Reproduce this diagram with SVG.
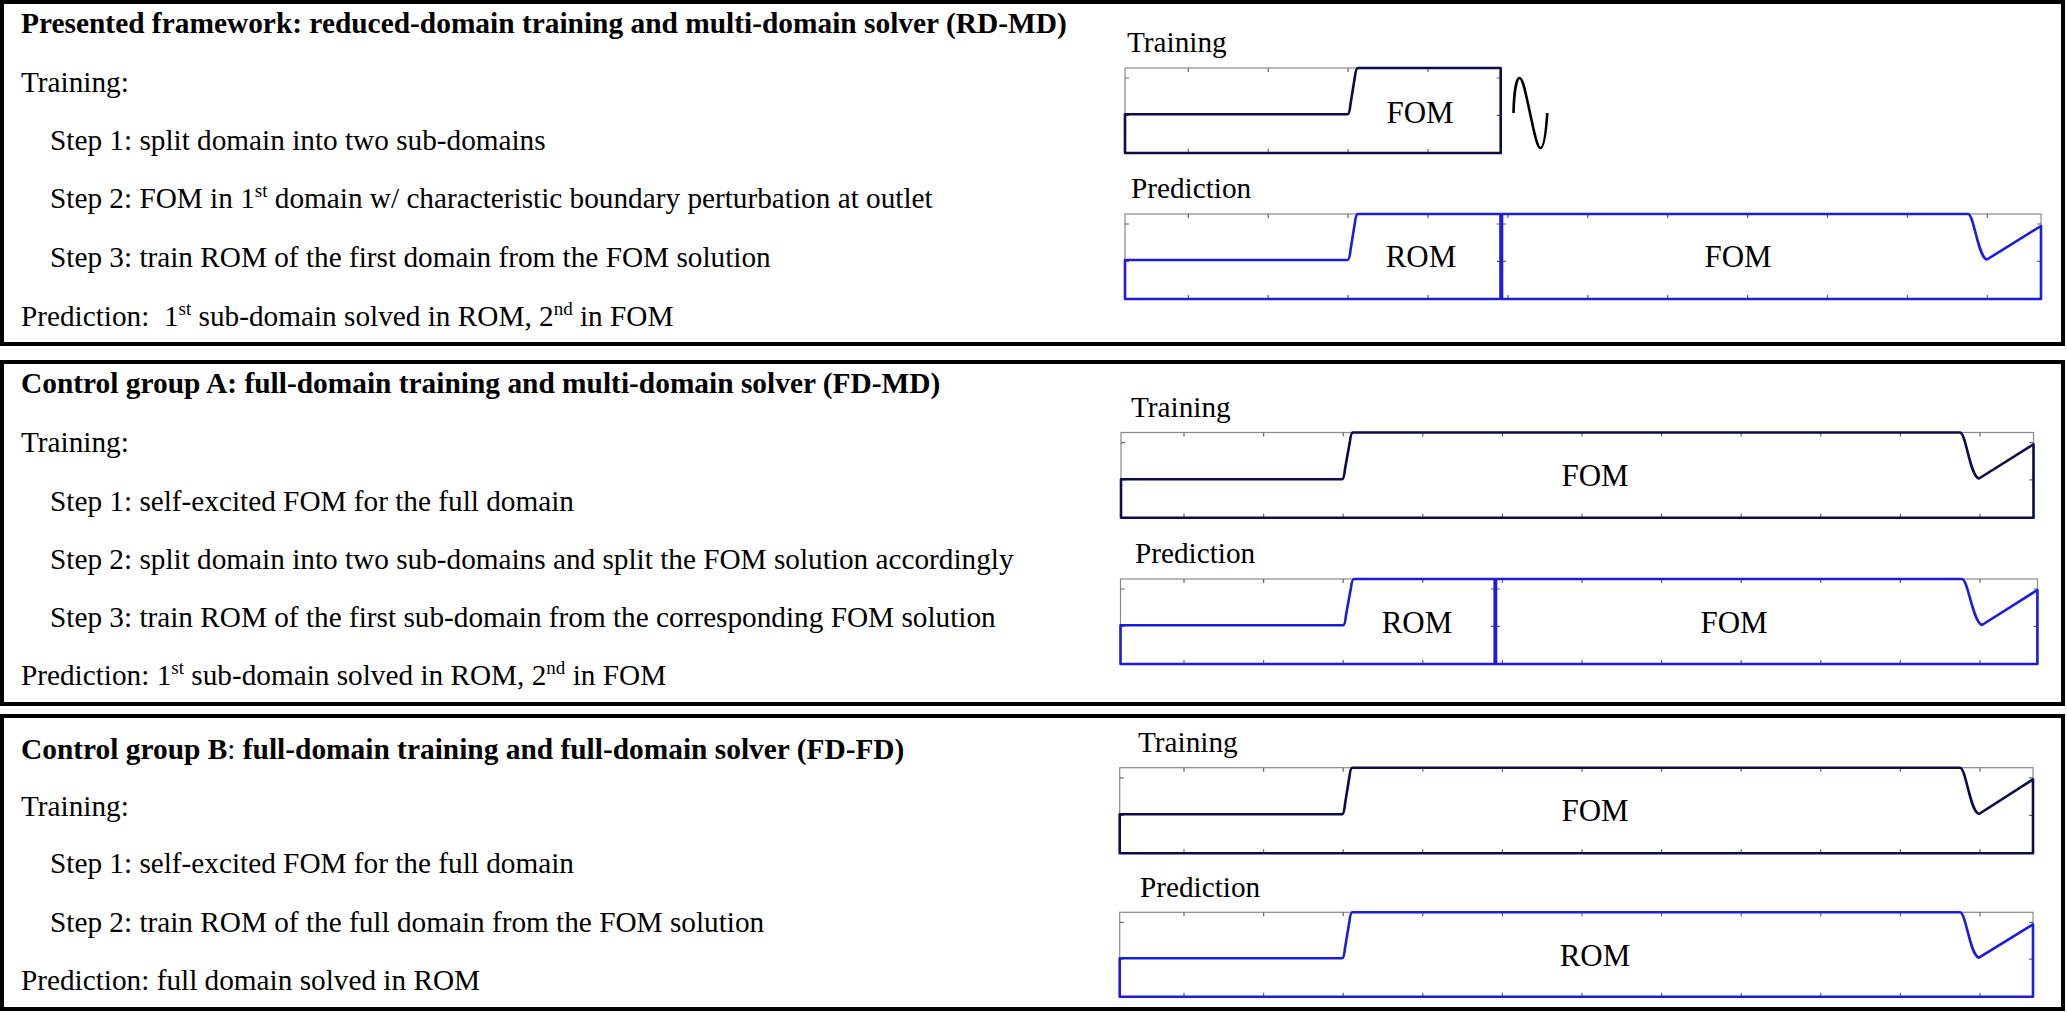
<svg xmlns="http://www.w3.org/2000/svg" width="2067" height="1013" viewBox="0 0 2067 1013">
<style>
.box{fill:none;stroke:#000;stroke-width:4}
.t{font-family:"Liberation Serif","Times New Roman",serif;font-size:29.25px;fill:#000}
.b{font-weight:bold;font-size:29.4px}
.lab{font-family:"Liberation Serif","Times New Roman",serif;font-size:31px;fill:#000;text-anchor:middle}
.frame{fill:none;stroke:#8a8a8a;stroke-width:1.2}
.tick{fill:none;stroke:#666;stroke-width:1.2}
.navy{fill:none;stroke:#0c0c48;stroke-width:2.6;stroke-linejoin:round}
.blue{fill:none;stroke:#1c1ce0;stroke-width:2.6;stroke-linejoin:round}
.sine{fill:none;stroke:#000;stroke-width:2.6}
</style>
<rect width="2067" height="1013" fill="#fff"/>

<g id="panel-rdmd">
  <rect class="box" x="2" y="2" width="2061" height="342"/>
  <text class="t b" x="21" y="33">Presented framework: reduced-domain training and multi-domain solver (RD-MD)</text>
  <text class="t" x="21" y="92">Training:</text>
  <text class="t" x="50" y="150">Step 1: split domain into two sub-domains</text>
  <text class="t" x="50" y="208">Step 2: FOM in 1<tspan font-size="19" dy="-11">st</tspan><tspan dy="11"> domain w/ characteristic boundary perturbation at outlet</tspan></text>
  <text class="t" x="50" y="267">Step 3: train ROM of the first domain from the FOM solution</text>
  <text class="t" x="21" y="326">Prediction:&#160; 1<tspan font-size="19" dy="-11">st</tspan><tspan dy="11"> sub-domain solved in ROM, 2</tspan><tspan font-size="19" dy="-11">nd</tspan><tspan dy="11"> in FOM</tspan></text>

  <g id="rdmd-training">
    <text class="t" x="1127" y="52">Training</text>
    <rect class="frame" x="1125" y="68" width="375.7" height="85"/>
    <path class="tick" d="M1188.3,68v4M1268.2,68v4M1348.1,68v4M1428,68v4M1188.3,153v-4M1268.2,153v-4M1348.1,153v-4M1428,153v-4M1125,78h4M1125,115.3h4M1500.7,78h-4M1500.7,115.3h-4"/>
    <path class="navy" d="M1125,153 L1125,114.3 L1347.5,114.3 Q1349.5,114.3 1350.5,104 L1355,76 Q1356,68 1358,68 L1500.7,68 L1500.7,153 Z"/>
    <text class="lab" x="1420" y="123">FOM</text>
    <path class="sine" d="M1513.5,113 C1514,90 1517,78 1519.5,78 C1523,78 1526,95 1530,113 C1534,131 1537,148 1540.5,148 C1544,148 1546,132 1547.3,113"/>
  </g>

  <g id="rdmd-prediction">
    <text class="t" x="1131" y="198">Prediction</text>
    <rect class="frame" x="1125" y="214" width="916" height="85"/>
    <path class="tick" d="M1188.3,214v4M1268.2,214v4M1348.1,214v4M1428,214v4M1507.9,214v4M1587.8,214v4M1667.7,214v4M1747.6,214v4M1827.5,214v4M1907.4,214v4M1987.3,214v4M1188.3,299v-4M1268.2,299v-4M1348.1,299v-4M1428,299v-4M1507.9,299v-4M1587.8,299v-4M1667.7,299v-4M1747.6,299v-4M1827.5,299v-4M1907.4,299v-4M1987.3,299v-4M1125,224h4M1125,261.3h4M1500.7,224h-4M1500.7,261.3h-4M1502,224h4M1502,261.3h4M2041,224h-4M2041,261.3h-4"/>
    <path class="blue" d="M1125,299 L1125,260 L1347.5,260 Q1349.5,260 1350.5,250 L1355,222 Q1356,214 1358,214 L1500.5,214 L1500.5,299 Z"/>
    <path class="blue" d="M1502,299 L1502,214 L1968,214 C1974,214 1978,258 1987,259.5 L2041,226 L2041,299 Z"/>
    <text class="lab" x="1421" y="267">ROM</text>
    <text class="lab" x="1738" y="267">FOM</text>
  </g>
</g>

<g id="panel-fdmd">
  <rect class="box" x="2" y="362" width="2061" height="342"/>
  <text class="t b" x="21" y="393">Control group A: full-domain training and multi-domain solver (FD-MD)</text>
  <text class="t" x="21" y="452">Training:</text>
  <text class="t" x="50" y="511">Step 1: self-excited FOM for the full domain</text>
  <text class="t" x="50" y="569">Step 2: split domain into two sub-domains and split the FOM solution accordingly</text>
  <text class="t" x="50" y="627">Step 3: train ROM of the first sub-domain from the corresponding FOM solution</text>
  <text class="t" x="21" y="685">Prediction: 1<tspan font-size="19" dy="-11">st</tspan><tspan dy="11"> sub-domain solved in ROM, 2</tspan><tspan font-size="19" dy="-11">nd</tspan><tspan dy="11"> in FOM</tspan></text>

  <g id="fdmd-training">
    <text class="t" x="1131" y="417">Training</text>
    <rect class="frame" x="1121" y="432.5" width="912.5" height="85.2"/>
    <path class="tick" d="M1184,432.5v4M1263.6,432.5v4M1343.2,432.5v4M1422.8,432.5v4M1502.4,432.5v4M1582,432.5v4M1661.6,432.5v4M1741.2,432.5v4M1820.8,432.5v4M1900.4,432.5v4M1980,432.5v4M1184,517.7v-4M1263.6,517.7v-4M1343.2,517.7v-4M1422.8,517.7v-4M1502.4,517.7v-4M1582,517.7v-4M1661.6,517.7v-4M1741.2,517.7v-4M1820.8,517.7v-4M1900.4,517.7v-4M1980,517.7v-4M1121,442.6h4M1121,479.9h4M2033.5,442.6h-4M2033.5,479.9h-4"/>
    <path class="navy" d="M1121,517.7 L1121,479.3 L1342,479.3 Q1344,479.3 1345,469 L1350,441 Q1351,432.5 1353,432.5 L1960,432.5 C1966,432.5 1970,477 1979,478.5 L2033.5,444.3 L2033.5,517.7 Z"/>
    <text class="lab" x="1595" y="486">FOM</text>
  </g>

  <g id="fdmd-prediction">
    <text class="t" x="1135" y="563">Prediction</text>
    <rect class="frame" x="1120.5" y="579" width="917" height="85"/>
    <path class="tick" d="M1184,579v4M1263.6,579v4M1343.2,579v4M1422.8,579v4M1502.4,579v4M1582,579v4M1661.6,579v4M1741.2,579v4M1820.8,579v4M1900.4,579v4M1980,579v4M1184,664v-4M1263.6,664v-4M1343.2,664v-4M1422.8,664v-4M1502.4,664v-4M1582,664v-4M1661.6,664v-4M1741.2,664v-4M1820.8,664v-4M1900.4,664v-4M1980,664v-4M1120.5,589h4M1120.5,626.3h4M1494.7,589h-4M1494.7,626.3h-4M1496,589h4M1496,626.3h4M2037.4,589h-4M2037.4,626.3h-4"/>
    <path class="blue" d="M1120.5,664 L1120.5,625.3 L1343,625.3 Q1345,625.3 1346,615 L1351,587.5 Q1352,579 1354,579 L1494.7,579 L1494.7,664 Z"/>
    <path class="blue" d="M1496,664 L1496,579 L1962,579 C1968,579 1973,623 1982,625 L2037.4,590 L2037.4,664 Z"/>
    <text class="lab" x="1417" y="633">ROM</text>
    <text class="lab" x="1734" y="633">FOM</text>
  </g>
</g>

<g id="panel-fdfd">
  <rect class="box" x="2" y="716" width="2061" height="293"/>
  <text class="t" x="21" y="759"><tspan class="b">Control group B</tspan>: <tspan class="b">full-domain training and full-domain solver (FD-FD)</tspan></text>
  <text class="t" x="21" y="816">Training:</text>
  <text class="t" x="50" y="873">Step 1: self-excited FOM for the full domain</text>
  <text class="t" x="50" y="932">Step 2: train ROM of the full domain from the FOM solution</text>
  <text class="t" x="21" y="990">Prediction: full domain solved in ROM</text>

  <g id="fdfd-training">
    <text class="t" x="1138" y="752">Training</text>
    <rect class="frame" x="1119.7" y="767.7" width="913.3" height="85.6"/>
    <path class="tick" d="M1184,767.7v4M1263.6,767.7v4M1343.2,767.7v4M1422.8,767.7v4M1502.4,767.7v4M1582,767.7v4M1661.6,767.7v4M1741.2,767.7v4M1820.8,767.7v4M1900.4,767.7v4M1980,767.7v4M1184,853.3v-4M1263.6,853.3v-4M1343.2,853.3v-4M1422.8,853.3v-4M1502.4,853.3v-4M1582,853.3v-4M1661.6,853.3v-4M1741.2,853.3v-4M1820.8,853.3v-4M1900.4,853.3v-4M1980,853.3v-4M1119.7,777.8h4M1119.7,815.3h4M2033,777.8h-4M2033,815.3h-4"/>
    <path class="navy" d="M1119.7,853.3 L1119.7,814.3 L1342,814.3 Q1344,814.3 1345,804 L1349.5,776 Q1350.5,767.7 1352.5,767.7 L1960,767.7 C1966,767.7 1970,812 1979,814 L2033,779.3 L2033,853.3 Z"/>
    <text class="lab" x="1595" y="821">FOM</text>
  </g>

  <g id="fdfd-prediction">
    <text class="t" x="1140" y="897">Prediction</text>
    <rect class="frame" x="1119.7" y="912.3" width="913.3" height="84.4"/>
    <path class="tick" d="M1184,912.3v4M1263.6,912.3v4M1343.2,912.3v4M1422.8,912.3v4M1502.4,912.3v4M1582,912.3v4M1661.6,912.3v4M1741.2,912.3v4M1820.8,912.3v4M1900.4,912.3v4M1980,912.3v4M1184,996.7v-4M1263.6,996.7v-4M1343.2,996.7v-4M1422.8,996.7v-4M1502.4,996.7v-4M1582,996.7v-4M1661.6,996.7v-4M1741.2,996.7v-4M1820.8,996.7v-4M1900.4,996.7v-4M1980,996.7v-4M1119.7,922.3h4M1119.7,959.2h4M2033,922.3h-4M2033,959.2h-4"/>
    <path class="blue" d="M1119.7,996.7 L1119.7,958.3 L1342,958.3 Q1344,958.3 1345,948 L1349.5,921 Q1350.5,912.3 1352.5,912.3 L1960,912.3 C1966,912.3 1970,956 1979,957.7 L2033,924.3 L2033,996.7 Z"/>
    <text class="lab" x="1595" y="966">ROM</text>
  </g>
</g>
</svg>
